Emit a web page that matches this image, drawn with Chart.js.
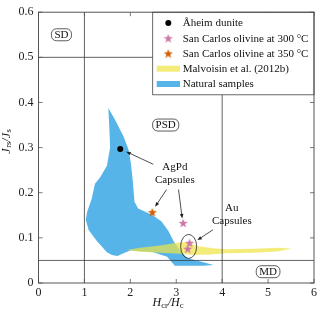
<!DOCTYPE html>
<html>
<head>
<meta charset="utf-8">
<script src="https://cdn.jsdelivr.net/npm/chart.js@4"></script>
<style>
  html, body { margin: 0; padding: 0; background: #fff; }
</style>
</head>
<body>
<canvas id="chart" width="320" height="313"></canvas>
<script>
// values
const naturalX = [1.52, 1.67, 1.85, 1.96, 2.01, 2.05, 2.09, 2.17, 2.47, 2.68, 2.83, 2.94, 3.12, 3.25, 3.55, 3.81, 3.60, 2.97, 2.80, 2.50, 2.00, 1.85, 1.72, 1.60, 1.49, 1.27, 1.09, 1.03, 1.06, 1.16, 1.23, 1.34, 1.49, 1.56, 1.54];
const naturalY = [0.388, 0.361, 0.325, 0.296, 0.267, 0.230, 0.180, 0.165, 0.151, 0.136, 0.115, 0.093, 0.067, 0.055, 0.047, 0.040, 0.038, 0.038, 0.058, 0.068, 0.072, 0.066, 0.060, 0.062, 0.068, 0.093, 0.118, 0.140, 0.158, 0.187, 0.220, 0.234, 0.260, 0.300, 0.350];
const malvoisinX = [1.92, 2.21, 2.65, 3.01, 3.23, 3.45, 3.81, 4.10, 4.68, 5.26, 5.52, 5.19, 4.68, 4.10, 3.74, 3.37, 3.08, 2.65, 2.21];
const malvoisinY = [0.073, 0.078, 0.083, 0.089, 0.091, 0.082, 0.077, 0.075, 0.076, 0.078, 0.076, 0.070, 0.067, 0.066, 0.063, 0.062, 0.065, 0.067, 0.069];
const aheimX = [1.78];
const aheimY = [0.297];
const sc300X = [3.15, 3.29, 3.25];
const sc300Y = [0.133, 0.089, 0.076];
const sc350X = [2.48];
const sc350Y = [0.157];

const boundaryHc = [1, 4];       // Hcr/Hc domain limits
const boundaryMr = [0.05, 0.5];  // Jrs/Js domain limits
const xTickLabels = ['0', '1', '2', '3', '4', '5', '6'];
const yTickLabels = ['0', '0.1', '0.2', '0.3', '0.4', '0.5', '0.6'];

const regionNames = ['SD', 'PSD', 'MD'];
const regionX = [0.5, 2.77, 5.0];
const regionY = [0.55, 0.35, 0.025];

const noteLines = [['AgPd', 'Capsules'], ['Au', 'Capsules']];
const noteX = [2.97, 4.21];
const noteY = [0.242, 0.152];
// arrows: from -> to
const arrowFromX = [2.50, 2.79, 3.05, 3.80];
const arrowFromY = [0.263, 0.207, 0.207, 0.118];
const arrowToX = [1.91, 2.54, 3.13, 3.46];
const arrowToY = [0.291, 0.169, 0.143, 0.095];

const BLUE = '#56b4e9';
const YELLOW = 'rgba(240,228,66,0.7)';
const PINK = '#cc79a7';
const ORANGE = '#d55e00';
const SERIF = '"Liberation Serif", "DejaVu Serif", serif';

function pts(xs, ys) {
    return xs.map((v, i) => ({ x: v, y: ys[i] }));
}

function starImage(color, size) {
    const c = document.createElement('canvas');
    c.width = size; c.height = size;
    const g = c.getContext('2d');
    const r = size / 2 - 0.2, ri = r * 0.42;
    g.beginPath();
    for (let i = 0; i < 10; i++) {
        const rad = i % 2 ? ri : r;
        const ang = -Math.PI / 2 + i * Math.PI / 5;
        g.lineTo(size / 2 + rad * Math.cos(ang), size / 2 + 0.5 + rad * Math.sin(ang));
    }
    g.closePath();
    g.fillStyle = color;
    g.fill();
    return c;
}
const star300 = starImage(PINK, 10);
const star350 = starImage(ORANGE, 10);

function vline(v) { return [{ x: v, y: 0 }, { x: v, y: 0.6 }]; }
function hline(v) { return [{ x: 0, y: v }, { x: 6, y: v }]; }

// draws text like H_cr/H_c with subscripts
function subText(ctx, parts, cx, cy) {
    const fontOf = p => p[1] ? '8.5px ' + SERIF : 'italic 12px ' + SERIF;
    let w = 0;
    parts.forEach(p => {
        ctx.font = fontOf(p);
        w += ctx.measureText(p[0]).width;
    });
    let xx = cx - w / 2;
    parts.forEach(p => {
        ctx.font = fontOf(p);
        ctx.fillText(p[0], xx, cy + (p[1] ? 2.5 : 0));
        xx += ctx.measureText(p[0]).width + (p[0] === 'J' ? 0.6 : 0);
    });
}

function arrow(ctx, x1, y1, x2, y2) {
    const ang = Math.atan2(y2 - y1, x2 - x1);
    ctx.beginPath();
    ctx.moveTo(x1, y1);
    ctx.lineTo(x2 - 3 * Math.cos(ang), y2 - 3 * Math.sin(ang));
    ctx.stroke();
    ctx.beginPath();
    ctx.moveTo(x2, y2);
    ctx.lineTo(x2 - 4.5 * Math.cos(ang) + 1.8 * Math.sin(ang), y2 - 4.5 * Math.sin(ang) - 1.8 * Math.cos(ang));
    ctx.lineTo(x2 - 4.5 * Math.cos(ang) - 1.8 * Math.sin(ang), y2 - 4.5 * Math.sin(ang) + 1.8 * Math.cos(ang));
    ctx.closePath();
    ctx.fill();
}

const decor = {
    id: 'decor',
    afterDatasetsDraw(chart) {
        const { ctx, chartArea: a, scales: { x, y } } = chart;
        ctx.save();

        // inward ticks on all four sides
        ctx.strokeStyle = '#555';
        ctx.lineWidth = 0.8;
        ctx.beginPath();
        x.ticks.forEach(t => {
            const px = x.getPixelForValue(t.value);
            ctx.moveTo(px, a.bottom); ctx.lineTo(px, a.bottom - 4);
            ctx.moveTo(px, a.top); ctx.lineTo(px, a.top + 4);
        });
        y.ticks.forEach(t => {
            const py = y.getPixelForValue(t.value);
            ctx.moveTo(a.left, py); ctx.lineTo(a.left + 4, py);
            ctx.moveTo(a.right, py); ctx.lineTo(a.right - 4, py);
        });
        ctx.stroke();

        // domain names in rounded boxes
        ctx.font = '11px ' + SERIF;
        ctx.textAlign = 'center';
        ctx.textBaseline = 'middle';
        regionNames.forEach((t, i) => {
            const px = x.getPixelForValue(regionX[i]);
            const py = y.getPixelForValue(regionY[i]);
            const w = ctx.measureText(t).width + 6, h = 12;
            ctx.beginPath();
            ctx.roundRect(px - w / 2, py - h / 2, w, h, 5);
            ctx.fillStyle = '#fff';
            ctx.fill();
            ctx.strokeStyle = '#333';
            ctx.lineWidth = 0.8;
            ctx.stroke();
            ctx.fillStyle = '#111';
            ctx.fillText(t, px, py + 0.5);
        });

        // ellipse around the Au capsule points
        ctx.beginPath();
        ctx.ellipse(x.getPixelForValue(3.27), y.getPixelForValue(0.081), 8, 12, 0, 0, Math.PI * 2);
        ctx.strokeStyle = '#222';
        ctx.lineWidth = 0.8;
        ctx.stroke();

        // arrows
        ctx.fillStyle = '#222';
        arrowFromX.forEach((v, i) => {
            arrow(ctx, x.getPixelForValue(v), y.getPixelForValue(arrowFromY[i]),
                x.getPixelForValue(arrowToX[i]), y.getPixelForValue(arrowToY[i]));
        });

        // annotation texts
        ctx.fillStyle = '#111';
        ctx.font = '11px ' + SERIF;
        noteLines.forEach((lines, i) => {
            const px = x.getPixelForValue(noteX[i]);
            const py = y.getPixelForValue(noteY[i]);
            lines.forEach((s, j) => {
                ctx.fillText(s, px, py + (j - (lines.length - 1) / 2) * 12.7);
            });
        });

        // legend box top right
        const lx = a.right - 161.3, ly = a.top, lw = 161.3, lh = 82.6;
        ctx.fillStyle = '#fff';
        ctx.fillRect(lx, ly, lw, lh);
        ctx.strokeStyle = '#444';
        ctx.strokeRect(lx, ly, lw, lh);
        const items = chart.data.datasets.filter(d => d.inLegend);
        ctx.textAlign = 'left';
        items.forEach((d, i) => {
            const cy = ly + 10.8 + i * 15.25;
            const sx = lx + 15.6;
            if (d.legendKind === 'dot') {
                ctx.fillStyle = d.backgroundColor;
                ctx.beginPath(); ctx.arc(sx, cy, 3, 0, Math.PI * 2); ctx.fill();
            } else if (d.legendKind === 'star') {
                ctx.drawImage(d.pointStyle, sx - 5, cy - 5);
            } else {
                ctx.fillStyle = d.backgroundColor;
                ctx.fillRect(lx + 4, cy - 3, 23.3, 6);
            }
            ctx.fillStyle = '#111';
            ctx.fillText(d.label, lx + 30, cy + 0.5);
        });

        // frame
        ctx.strokeStyle = '#444';
        ctx.lineWidth = 0.9;
        ctx.strokeRect(a.left, a.top, a.width, a.height);

        // axis titles
        ctx.fillStyle = '#111';
        ctx.textAlign = 'left';
        ctx.textBaseline = 'middle';
        subText(ctx, [['H', 0], ['cr', 1], ['/', 0], ['H', 0], ['c', 1]], 168, 303);
        ctx.save();
        ctx.translate(6.5, 142);
        ctx.rotate(-Math.PI / 2);
        subText(ctx, [['J', 0], ['rs', 1], ['/', 0], ['J', 0], ['s', 1]], 0, 0);
        ctx.restore();

        ctx.restore();
    }
};

const lineStyle = { showLine: true, pointRadius: 0, borderColor: '#3a3a3a', borderWidth: 0.8, order: 1 };

new Chart(document.getElementById('chart'), {
    type: 'scatter',
    data: {
        datasets: [
            { label: 'Åheim dunite', data: pts(aheimX, aheimY), pointStyle: 'circle', pointRadius: 3,
              backgroundColor: '#000', borderWidth: 0, order: 0, inLegend: true, legendKind: 'dot' },
            { label: 'San Carlos olivine at 300 °C', data: pts(sc300X, sc300Y), pointStyle: star300,
              order: 0, inLegend: true, legendKind: 'star' },
            { label: 'San Carlos olivine at 350 °C', data: pts(sc350X, sc350Y), pointStyle: star350,
              order: 0, inLegend: true, legendKind: 'star' },
            { label: 'Malvoisin et al. (2012b)', data: pts(malvoisinX, malvoisinY), showLine: true, fill: 'shape',
              backgroundColor: YELLOW, borderColor: 'rgba(0,0,0,0)', borderWidth: 0, pointRadius: 0, tension: 0,
              order: 2, inLegend: true, legendKind: 'box' },
            { label: 'Natural samples', data: pts(naturalX, naturalY), showLine: true, fill: 'shape',
              backgroundColor: BLUE, borderColor: 'rgba(0,0,0,0)', borderWidth: 0, pointRadius: 0, tension: 0,
              order: 3, inLegend: true, legendKind: 'box' },
            Object.assign({ label: 'Hc 1', data: vline(boundaryHc[0]) }, lineStyle),
            Object.assign({ label: 'Hc 4', data: vline(boundaryHc[1]) }, lineStyle),
            Object.assign({ label: 'Mr 0.05', data: hline(boundaryMr[0]) }, lineStyle),
            Object.assign({ label: 'Mr 0.5', data: hline(boundaryMr[1]) }, lineStyle)
        ]
    },
    options: {
        responsive: false,
        animation: false,
        layout: { padding: { top: 7, right: 6, left: 0, bottom: 0 } },
        plugins: { legend: { display: false }, tooltip: { enabled: false } },
        scales: {
            x: {
                min: 0, max: 6,
                grid: { display: false, drawTicks: false },
                border: { display: false },
                ticks: { stepSize: 1, padding: 3, color: '#222', font: { family: SERIF, size: 12 },
                         maxRotation: 0, callback: (v, i) => xTickLabels[i] },
                afterFit(s) { s.height = 30; }
            },
            y: {
                min: 0, max: 0.6,
                grid: { display: false, drawTicks: false },
                border: { display: false },
                ticks: { stepSize: 0.1, padding: 5, color: '#222', font: { family: SERIF, size: 12 },
                         callback: (v, i) => yTickLabels[i] },
                afterFit(s) { s.width = 38.5; }
            }
        }
    },
    plugins: [decor]
});
</script>
</body>
</html>
